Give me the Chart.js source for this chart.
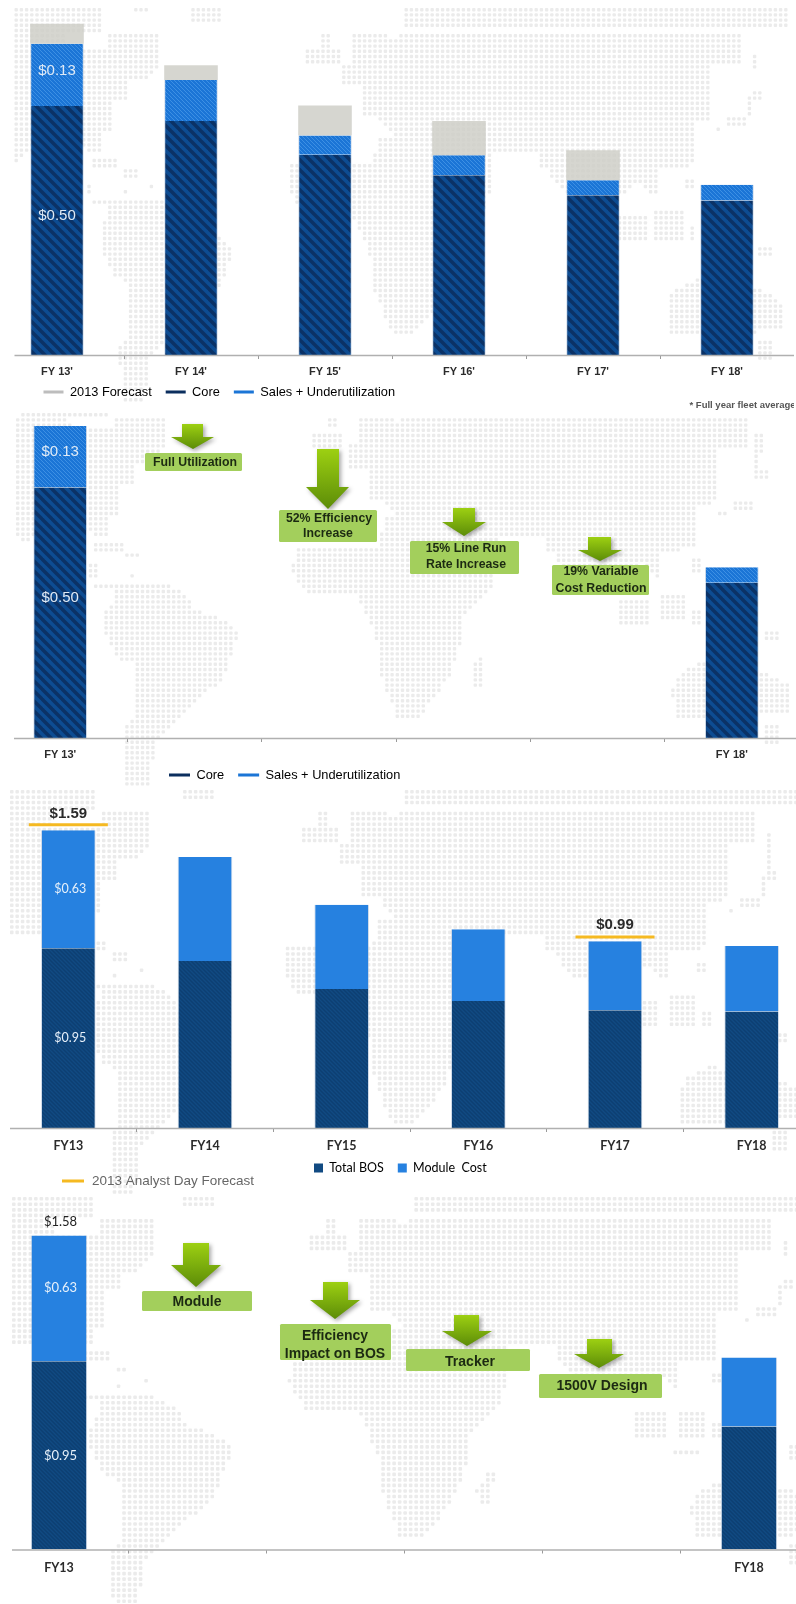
<!DOCTYPE html>
<html><head><meta charset="utf-8">
<style>html,body{margin:0;padding:0;background:#fff;width:796px;height:1604px;overflow:hidden;position:relative}canvas{position:absolute;display:block}</style>
<script src="https://cdn.jsdelivr.net/npm/chart.js@4"></script>
</head><body>
<script>
// ---------- DATA ----------
const fyLabelsA = ["FY 13'", "FY 14'", "FY 15'", "FY 16'", "FY 17'", "FY 18'"];
const coreA     = [0.50, 0.470, 0.402, 0.361, 0.321, 0.310];
const salesA    = [0.125, 0.082, 0.039, 0.040, 0.030, 0.032];
const forecastA = [0.040, 0.030, 0.060, 0.069, 0.060, 0];
const fyLabelsB = ["FY 13'", "", "", "", "", "FY 18'"];
const coreB     = [0.50, null, null, null, null, 0.31];
const salesB    = [0.123, null, null, null, null, 0.031];
const fyLabelsC = ["FY13", "FY14", "FY15", "FY16", "FY17", "FY18"];
const bosC      = [0.954, 0.886, 0.738, 0.674, 0.625, 0.619];
const moduleC   = [0.626, 0.552, 0.447, 0.381, 0.366, 0.347];
const analystC  = [1.61, null, null, null, 1.014, null];
const fyLabelsD = ["FY13", "", "", "", "", "FY18"];
const bosD      = [0.948, null, null, null, null, 0.619];
const moduleD   = [0.632, null, null, null, null, 0.347];

// ---------- DECORATIVE WORLD MAP (dot-screen, not data) ----------
const mapShapes = [
 [55,-35,325,-35,325,40,55,40],[405,-35,460,-35,460,-15,405,-15],[575,-35,670,-35,670,15,575,15],[825,-35,885,-35,885,-28,825,-28],[1218,-35,2373,-35,2373,25,1218,25],
 [40,40,200,40,210,85,340,85,340,40,490,40,490,135,450,190,400,190,400,250,350,250,350,345,322,345,322,405,295,405,260,390,100,400,60,430,40,400],
 [280,422,362,422,362,445,280,445],[375,455,420,455,420,475,375,475],[462,495,472,495,472,506,462,506],[265,490,290,490,290,530,265,530],[385,515,396,515,396,526,385,526],
 [280,545,490,545,550,575,580,625,660,650,715,690,680,780,660,840,575,900,520,960,460,1020,445,1150,375,1150,370,975,400,950,400,790,350,770,310,690,310,630,340,590,340,560,280,555],
 [970,40,1000,40,1000,85,970,85],[930,90,1030,90,1030,135,930,135],
 [1070,40,1170,40,1180,60,1233,40,2238,40,2238,135,2150,140,2150,300,2090,310,2090,440,1980,450,1980,525,1960,525,1900,450,1650,450,1628,440,1628,400,1490,400,1488,500,1470,560,1390,640,1370,760,1340,830,1300,890,1250,945,1188,950,1160,880,1130,800,1125,720,1095,640,1065,580,920,580,870,510,885,440,1130,430,1150,350,1190,350,1150,300,1100,300,1100,200,1040,200,1040,130,1070,130],
 [1650,450,1960,450,1880,525,1760,540,1700,520],
 [2263,100,2288,100,2288,150,2263,150],[2263,160,2275,160,2275,210,2263,210],[2263,210,2298,210,2298,240,2263,240],[2248,230,2263,230,2263,290,2248,290],[2188,290,2248,290,2248,320,2188,320],[2153,320,2173,320,2173,340,2153,340],
 [1848,590,1948,590,1948,670,1848,670],[1978,580,2058,580,2058,660,1978,660],[2073,620,2103,620,2103,670,2073,670],[1958,695,2028,695,2028,706,1958,706],[2068,475,2098,475,2098,510,2068,510],
 [1415,855,1403,810,1430,770,1445,740,1453,760,1445,855],
 [2035,810,2105,780,2290,810,2358,850,2358,930,2200,950,2020,945,2010,860],
 [2288,680,2328,680,2328,720,2288,720],[2288,960,2328,960,2328,1030,2288,1030]
];
function inShape(s,x,y){let c=false;for(let i=0,j=s.length-2;i<s.length;j=i,i+=2){const xi=s[i],yi=s[i+1],xj=s[j],yj=s[j+1];
 if((yi>y)!==(yj>y)&&x<(xj-xi)*(y-yi)/(yj-yi)+xi)c=!c;}return c;}
function drawMap(ctx,m){
 const pitch=5.2*m.s, size=3.4*m.s;
 ctx.fillStyle='#ebebeb';
 for(let py=m.top;py<m.bottom;py+=pitch){for(let px=m.left;px<796;px+=pitch){
   const X=(px-m.dx)/m.s*3,Y=(py-m.dy)/m.s*3;
   if(mapShapes.some(s=>inShape(s,X,Y))){ctx.beginPath();ctx.roundRect(px,py,size,size,1);ctx.fill();}
 }}
}
// ---------- hatch fills ----------
function hatch(base,stripe,n,w){const c=document.createElement('canvas');c.width=c.height=n;const g=c.getContext('2d');
 g.fillStyle=base;g.fillRect(0,0,n,n);g.strokeStyle=stripe;g.lineWidth=w;
 for(const o of [-n,0,n]){g.beginPath();g.moveTo(o-1,-1);g.lineTo(o+n+1,n+1);g.stroke();}
 return g.createPattern(c,'repeat');}
const fillCore=hatch('#0d4c92','#0b3266',10,3.4), fillSales=hatch('#1b75d6','#3d90e4',4,1);
const fillBos=hatch('#114a82','#0d3f72',4,1.4), fillModule='#2681e0', fillForecast='rgba(205,205,198,0.82)';
const edge={borderColor:'rgba(170,190,215,0.55)',borderWidth:{left:1,right:1,top:0,bottom:0},borderSkipped:false};

function drawArrow(ctx,a){
 ctx.save();
 ctx.shadowColor='rgba(0,0,0,0.35)';ctx.shadowBlur=4;ctx.shadowOffsetX=2;ctx.shadowOffsetY=2;
 const g=ctx.createLinearGradient(0,a.top,0,a.tip);g.addColorStop(0,'#9dd012');g.addColorStop(1,'#5c8c08');
 ctx.fillStyle=g;ctx.beginPath();
 ctx.moveTo(a.sl,a.top);ctx.lineTo(a.sr,a.top);ctx.lineTo(a.sr,a.head);ctx.lineTo(a.hr,a.head);
 ctx.lineTo(a.tx,a.tip);ctx.lineTo(a.hl,a.head);ctx.lineTo(a.sl,a.head);ctx.closePath();ctx.fill();
 ctx.restore();
 ctx.fillStyle='#a3cf5c';ctx.beginPath();ctx.roundRect(a.bx,a.by,a.bw,a.bh,1.5);ctx.fill();
 ctx.textAlign='center';ctx.textBaseline='middle';ctx.fillStyle='#1c2a12';
 a.lines.forEach(l=>{ctx.font=l[3]||'bold 12.3px "Liberation Sans"';ctx.fillText(l[0],l[1],l[2]);});
}

const panelPlugin={id:'panel',
 beforeLayout(chart){const l=chart.legend;if(l&&!l._patched){const f=l.fit;l.fit=function(){f.call(this);this.height=0;};l._patched=true;}},
 afterLayout(chart){const o=chart.$panel,l=chart.legend;if(l&&o.legend){const p=o.legend.padding;
   l.left=o.legend.x-o.left-p;l.right=chart.width;l.top=o.legend.y-o.top-p-o.legend.size/2;l.bottom=l.top+40;}},
 beforeDraw(chart){const o=chart.$panel,c=chart.ctx;c.save();c.translate(-o.left,-o.top);drawMap(c,o.map);c.restore();},
 afterDatasetsDraw(chart){const o=chart.$panel,c=chart.ctx,xs=chart.scales.x;
  c.save();
  c.strokeStyle='#b0b0b0';c.lineWidth=1.5;c.beginPath();c.moveTo(o.axisStart-o.left,xs.top+0.5);c.lineTo(chart.width,xs.top+0.5);c.stroke();
  c.textAlign='center';c.textBaseline='middle';
  (o.labels||[]).forEach(t=>{const e=chart.getDatasetMeta(t.ds).data[t.i];
    const y=t.at==='point'?e.y:t.at==='top'?e.y:(e.y+e.base)/2;
    c.font=t.font;c.fillStyle=t.color;c.fillText(t.text,e.x+(t.dx||0),y+(t.dy||0));});
  c.translate(-o.left,-o.top);
  (o.arrows||[]).forEach(a=>drawArrow(c,a));
  (o.notes||[]).forEach(n=>{c.textAlign=n.align||'left';c.font=n.font;c.fillStyle=n.color;c.fillText(n.text,n.x,n.y);});
  (o.swatches||[]).forEach(s=>{c.fillStyle=s.color;c.fillRect(s.x,s.y,s.w,s.h);});
  c.restore();}
};

function makePanel(o){
 const cv=document.createElement('canvas');cv.width=o.width;cv.height=o.height;
 cv.style.left=o.left+'px';cv.style.top=o.top+'px';cv.style.width=o.width+'px';cv.style.height=o.height+'px';
 document.body.appendChild(cv);
 const ch=new Chart(cv.getContext('2d'),{type:'bar',
  data:{labels:o.cats,datasets:o.datasets},
  options:{responsive:false,animation:false,events:[],devicePixelRatio:1,
   layout:{autoPadding:false,padding:0},
   datasets:{bar:{categoryPercentage:1,barPercentage:o.barPct}},
   plugins:{tooltip:{enabled:false},
    legend:o.legend?{display:true,position:'bottom',align:'start',
      labels:{boxWidth:o.legend.boxW,boxHeight:o.legend.boxH,padding:o.legend.padding,color:o.legend.color,
        font:{family:o.legend.family,size:o.legend.size},
        generateLabels:()=>o.legend.items.map(it=>({text:it[0],fillStyle:it[1],strokeStyle:it[1],lineWidth:0,hidden:false}))}}:{display:false}},
   scales:{
    x:{stacked:true,offset:true,border:{display:false},
       grid:{offset:true,drawOnChartArea:false,drawTicks:true,tickLength:4,color:'#9a9a9a',tickWidth:1},
       ticks:{autoSkip:false,maxRotation:0,padding:o.tickPad,color:'#2b2b2b',font:o.tickFont},
       afterFit(s){s.height=o.height-(o.baseline-o.top);}},
    y:{display:false,stacked:true,min:0,max:(o.baseline-o.top)/o.ppd}
   }},
  plugins:[{id:'preset',beforeInit(c){c.$panel=o;}},panelPlugin]});
 return ch;
}

const narrow={family:'"Liberation Sans Narrow","Liberation Sans"',size:11,weight:'bold'};
const lato={family:'Lato',size:12.5,weight:'bold'};
const wl15='15px "Liberation Sans"', wl13='13px Lato';

makePanel({left:-10.5,top:0,width:804,height:412,baseline:355,ppd:498,barPct:0.4,axisStart:14,cats:fyLabelsA,tickFont:narrow,tickPad:6,
 map:{s:1,dx:-6,dy:17,top:8,bottom:412,left:14},
 datasets:[
  {label:'Core',data:coreA,backgroundColor:fillCore,stack:'a',...edge},
  {label:'Sales + Underutilization',data:salesA,backgroundColor:fillSales,stack:'a',...edge},
  {label:'2013 Forecast',data:forecastA,backgroundColor:fillForecast,stack:'a'}],
 legend:{x:43,y:392,boxW:20,boxH:3,padding:14,size:12.8,family:'"Liberation Sans"',color:'#666',
  items:[['2013 Forecast','#bdbdbd'],['Core','#0b2e5e'],['Sales + Underutilization','#1b75d6']]},
 labels:[{ds:1,i:0,text:'$0.13',dy:-4,font:wl15,color:'#dfeaf6'},{ds:0,i:0,text:'$0.50',dy:-14.5,font:wl15,color:'#dfeaf6'}],
 notes:[{text:'* Full year fleet average',x:689,y:405,font:'bold 9.5px "Liberation Sans"',color:'#555'}]
});

makePanel({left:-7,top:400,width:806,height:400,baseline:738,ppd:501,barPct:0.4,axisStart:14,cats:fyLabelsB,tickFont:narrow,tickPad:6,
 map:{s:1,dx:0,dy:400,top:413,bottom:790,left:16},
 datasets:[
  {label:'Core',data:coreB,backgroundColor:fillCore,stack:'a',...edge},
  {label:'Sales + Underutilization',data:salesB,backgroundColor:fillSales,stack:'a',...edge}],
 legend:{x:169,y:775,boxW:21,boxH:3,padding:14,size:12.8,family:'"Liberation Sans"',color:'#666',
  items:[['Core','#0b2e5e'],['Sales + Underutilization','#1b75d6']]},
 labels:[{ds:1,i:0,text:'$0.13',dy:-4.5,font:wl15,color:'#dfeaf6'},{ds:0,i:0,text:'$0.50',dy:-14.5,font:wl15,color:'#dfeaf6'}],
 arrows:[
  {sl:182,sr:203,top:424,head:437,hl:171,hr:214,tx:193,tip:449,bx:145,by:453,bw:97,bh:18,lines:[['Full Utilization',195,463]]},
  {sl:317,sr:339,top:449,head:487,hl:306,hr:349,tx:328,tip:509,bx:279,by:510,bw:98,bh:32,lines:[['52% Efficiency',329,519],['Increase',328,534]]},
  {sl:453,sr:475,top:508,head:522,hl:442,hr:486,tx:464,tip:536,bx:410,by:541,bw:109,bh:33,lines:[['15% Line Run',466,549],['Rate Increase',466,565]]},
  {sl:588,sr:611,top:537,head:550,hl:578,hr:622,tx:600,tip:561,bx:552,by:565,bw:97,bh:30,lines:[['19% Variable',601,572],['Cost Reduction',601,589]]}]
});

makePanel({left:0,top:790,width:820,height:405,baseline:1128,ppd:188.4,barPct:0.4,axisStart:10,cats:fyLabelsC,tickFont:lato,tickPad:6,
 map:{s:1.04,dx:-21,dy:794,top:790,bottom:1195,left:10},
 datasets:[
  {label:'Total BOS',data:bosC,backgroundColor:fillBos,stack:'a',...edge},
  {label:'Module Cost',data:moduleC,backgroundColor:fillModule,stack:'a',...edge},
  {type:'line',label:'2013 Analyst Day Forecast',data:analystC,stack:'f',showLine:false,spanGaps:false,
   pointStyle:'line',pointRadius:39.5,pointBorderWidth:3,pointBorderColor:'#f5b921',borderColor:'#f5b921'}],
 legend:{x:314,y:1168,boxW:9,boxH:9,padding:14,size:12.5,family:'Lato',color:'#222',
  items:[['Total BOS','#114a82'],['Module  Cost','#2681e0']]},
 labels:[{ds:1,i:0,text:'$0.63',dx:2,font:'12.5px Lato',color:'#e6f0fa'},{ds:0,i:0,text:'$0.95',dx:2,font:'12.5px Lato',color:'#e6f0fa'},
  {ds:2,i:0,at:'point',text:'$1.59',dy:-11,font:'bold 15px "Liberation Sans"',color:'#2a2a2a'},
  {ds:2,i:4,at:'point',text:'$0.99',dy:-12,font:'bold 15px "Liberation Sans"',color:'#2a2a2a'}],
 swatches:[{x:62,y:1179.5,w:22,h:3,color:'#f5b921'}],
 notes:[{text:'2013 Analyst Day Forecast',x:92,y:1181,font:'13.5px "Liberation Sans"',color:'#666'}]
});

const b14='bold 14px "Liberation Sans"';
makePanel({left:-10,top:1195,width:828,height:409,baseline:1549.5,ppd:198.7,barPct:0.408,axisStart:12,cats:fyLabelsD,tickFont:lato,tickPad:7,
 map:{s:1.06,dx:-21,dy:1202,top:1197,bottom:1604,left:12},
 datasets:[
  {label:'Total BOS',data:bosD,backgroundColor:fillBos,stack:'a',...edge},
  {label:'Module Cost',data:moduleD,backgroundColor:fillModule,stack:'a',...edge}],
 labels:[{ds:1,i:0,text:'$0.63',dx:1.5,dy:-11,font:wl13,color:'#e6f0fa'},{ds:0,i:0,text:'$0.95',dx:1.5,font:wl13,color:'#e6f0fa'},
  {ds:1,i:0,at:'top',text:'$1.58',dx:1.5,dy:-14,font:wl13,color:'#222'}],
 arrows:[
  {sl:183,sr:209,top:1243,head:1265,hl:171,hr:221,tx:196,tip:1287,bx:142,by:1291,bw:110,bh:20,lines:[['Module',197,1302,b14]]},
  {sl:323,sr:348,top:1282,head:1300,hl:310,hr:360,tx:335,tip:1319,bx:280,by:1324,bw:111,bh:36,lines:[['Efficiency',335,1336,b14],['Impact on BOS',335,1354,b14]]},
  {sl:454,sr:479,top:1315,head:1331,hl:442,hr:492,tx:467,tip:1346,bx:406,by:1349,bw:124,bh:22,lines:[['Tracker',470,1362,b14]]},
  {sl:587,sr:612,top:1339,head:1354,hl:574,hr:624,tx:599,tip:1368,bx:539,by:1374,bw:123,bh:24,lines:[['1500V Design',602,1386,b14]]}]
});
</script>
</body></html>
